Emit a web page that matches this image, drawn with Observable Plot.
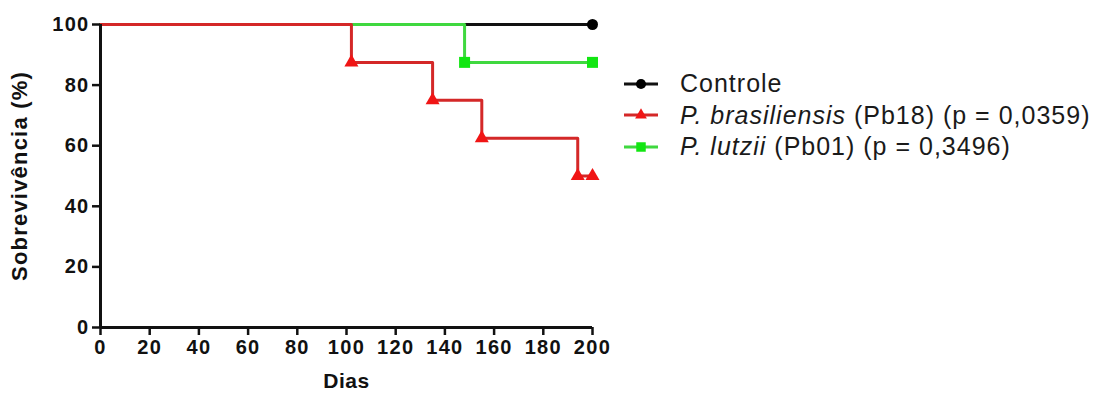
<!DOCTYPE html>
<html>
<head>
<meta charset="utf-8">
<script src="https://cdn.jsdelivr.net/npm/d3@7"></script>
<script src="https://cdn.jsdelivr.net/npm/@observablehq/plot@0.6"></script>
<style>
  html, body { margin: 0; padding: 0; background: #fff; }
  #wrap { position: relative; width: 1102px; height: 396px; }
  #chart svg { font-family: "Liberation Sans", Arial, sans-serif; }
  #legend { position: absolute; left: 622px; top: 68px; font-family: "Liberation Sans", Arial, sans-serif; font-size: 25px; letter-spacing: 1px; color: #1a1a1a; }
  #legend .row { display: flex; align-items: center; height: 31.5px; white-space: nowrap; }
  #legend svg { margin-right: 20px; }
</style>
</head>
<body>
<div id="wrap">
  <div id="chart"></div>
  <div id="legend"></div>
</div>
<script>
// Series names
const seriesNames = ["Controle", "P. brasiliensis (Pb18)", "P. lutzii (Pb01)"];
const pValues = [null, "0,0359", "0,3496"];

// Kaplan–Meier steps (day, survival %)
const controleDays = [0, 200];
const controleSurv = [100, 100];
const pbDays = [0, 102, 135, 155, 194, 200];
const pbSurv = [100, 87.5, 75, 62.5, 50, 50];
const plDays = [0, 148, 200];
const plSurv = [100, 87.5, 87.5];

// Marker points (events / censoring)
const controleMarkDays = [200];
const controleMarkSurv = [100];
const pbMarkDays = [102, 135, 155, 194, 200];
const pbMarkSurv = [87.5, 75, 62.5, 50, 50];
const plMarkDays = [148, 200];
const plMarkSurv = [87.5, 87.5];

const xTicks = [0, 20, 40, 60, 80, 100, 120, 140, 160, 180, 200];
const yTicks = [0, 20, 40, 60, 80, 100];
const xLabel = "Dias";
const yLabel = "Sobrevivência (%)";

const colors = { line: ["#111111", "#d42828", "#3fd83f"], mark: ["#000000", "#f01515", "#12e612"] };
const symbols = ["circle", "triangle", "square"];
const markR = [5.5, 5.2, 6.2];

const zip = (xs, ys) => xs.map((d, i) => ({ day: d, surv: ys[i] }));
const lines = [zip(controleDays, controleSurv), zip(pbDays, pbSurv), zip(plDays, plSurv)];
const marks = [zip(controleMarkDays, controleMarkSurv), zip(pbMarkDays, pbMarkSurv), zip(plMarkDays, plMarkSurv)];

// drawing order: black, green, red (red on top)
const order = [0, 2, 1];

const plot = Plot.plot({
  width: 1102,
  height: 396,
  marginLeft: 100,
  marginRight: 510,
  marginTop: 24,
  marginBottom: 69,
  style: { fontFamily: "Liberation Sans, Arial, sans-serif", color: "#111" },
  x: { domain: [0, 200] },
  y: { domain: [0, 100] },
  marks: [
    ...order.map(i => Plot.line(lines[i], { x: "day", y: "surv", curve: "step-after", stroke: colors.line[i], strokeWidth: 3 })),
    ...order.map(i => Plot.dot(marks[i], { x: "day", y: "surv", symbol: symbols[i], r: markR[i], fill: colors.mark[i], stroke: "none" })),
    Plot.axisX({ ticks: xTicks, tickSize: 8, tickPadding: 4, strokeWidth: 2.5, label: xLabel, labelAnchor: "center", labelArrow: "none", labelOffset: 60, fontWeight: "bold" }),
    Plot.axisY({ ticks: yTicks, tickSize: 8, tickPadding: 3, strokeWidth: 2.5, label: yLabel, labelAnchor: "center", labelArrow: "none", labelOffset: 89, fontWeight: "bold" }),
    Plot.ruleY([0], { stroke: "#111", strokeWidth: 3 }),
    Plot.ruleX([0], { stroke: "#111", strokeWidth: 3 })
  ]
});
document.getElementById("chart").appendChild(plot);

// font sizing (inline style to take precedence)
const svg = d3.select(plot);
svg.selectAll('g[aria-label="x-axis tick label"] text, g[aria-label="y-axis tick label"] text')
  .style("font-size", "20px").style("font-weight", "bold").style("letter-spacing", "1.3px");
svg.selectAll('g[aria-label="x-axis label"] text')
  .style("font-size", "21px").style("font-weight", "bold").style("letter-spacing", "0.6px");
svg.selectAll('g[aria-label="y-axis label"] text')
  .style("font-size", "22px").style("font-weight", "bold").style("letter-spacing", "1.2px");

// Legend
const legend = d3.select("#legend");
seriesNames.forEach((name, i) => {
  const row = legend.append("div").attr("class", "row");
  const sw = row.append("svg").attr("width", 38).attr("height", 20);
  sw.append("line").attr("x1", 2).attr("x2", 36).attr("y1", 10).attr("y2", 10)
    .attr("stroke", colors.line[i]).attr("stroke-width", 3);
  sw.append("path").attr("transform", "translate(19,10)")
    .attr("d", d3.symbol(i === 0 ? d3.symbolCircle : i === 1 ? d3.symbolTriangle : d3.symbolSquare, i === 0 ? 80 : i === 1 ? 60 : 90)())
    .attr("fill", colors.mark[i]);
  const txt = row.append("span");
  if (i === 0) {
    txt.text(name);
  } else {
    const m = name.match(/^(.*?) (\(.*\))$/);
    txt.append("i").text(m[1]);
    txt.append("span").text(" " + m[2] + " (p = " + pValues[i] + ")");
  }
});
</script>
</body>
</html>
